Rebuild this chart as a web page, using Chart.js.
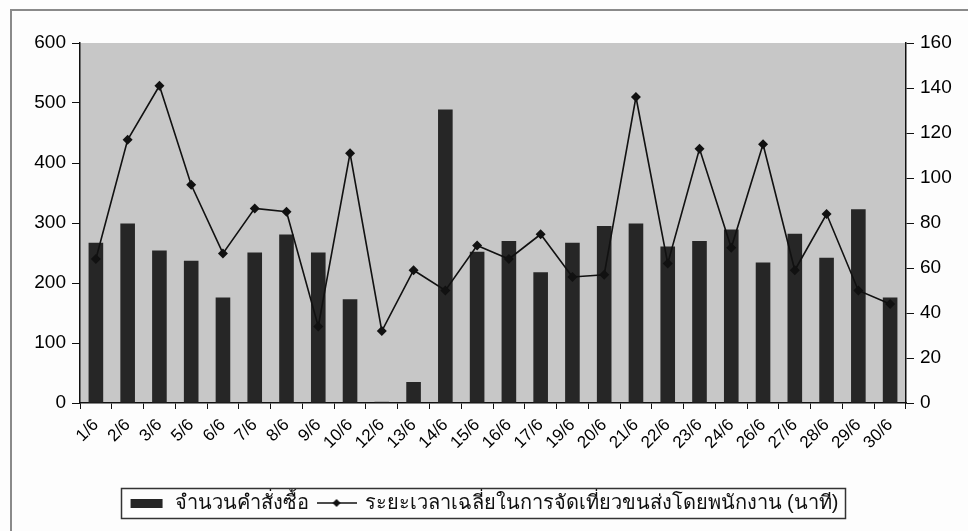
<!DOCTYPE html>
<html>
<head>
<meta charset="utf-8">
<script src="https://cdn.jsdelivr.net/npm/chart.js@4.4.1/dist/chart.umd.min.js"></script>
<style>
  html, body { margin: 0; padding: 0; background: #fdfdfd; }
  #wrap { position: relative; width: 968px; height: 531px; }
</style>
</head>
<body>
<div id="wrap"><canvas id="c" width="968" height="531"></canvas></div>
<script>
// Delivery days in June
const categories = ['1/6','2/6','3/6','5/6','6/6','7/6','8/6','9/6','10/6','12/6','13/6','14/6','15/6',
  '16/6','17/6','19/6','20/6','21/6','22/6','23/6','24/6','26/6','27/6','28/6','29/6','30/6'];

// Number of orders per day (left axis)
const orderCounts = [267, 299, 254, 237, 176, 251, 281, 251, 173, 2, 35, 489, 252,
  270, 218, 267, 295, 299, 261, 270, 289, 234, 282, 242, 323, 176];

// Average time per delivery trip by staff, minutes (right axis)
const avgMinutes = [64, 117, 141, 97, 66.5, 86.5, 85, 34, 111, 32, 59, 50, 70,
  64, 75, 56, 57, 136, 62, 113, 69, 115, 59, 84, 50, 44];

const leftTicks = [0, 100, 200, 300, 400, 500, 600];
const rightTicks = [0, 20, 40, 60, 80, 100, 120, 140, 160];

const seriesNames = ['จำนวนคำสั่งซื้อ', 'ระยะเวลาเฉลี่ยในการจัดเที่ยวขนส่งโดยพนักงาน (นาที)'];

const BAR = '#262626';
const INK = '#111111';
const FONT = "'Liberation Sans', Arial, sans-serif";

// Legend swatches: a filled block for the bars, a line with a diamond for the line series
function barSwatch() {
  const c = document.createElement('canvas');
  c.width = 34; c.height = 12;
  const g = c.getContext('2d');
  g.fillStyle = BAR;
  g.fillRect(1, 2, 32, 9);
  return c;
}
function lineSwatch() {
  const c = document.createElement('canvas');
  c.width = 40; c.height = 12;
  const g = c.getContext('2d');
  g.strokeStyle = INK; g.lineWidth = 1.5;
  g.beginPath(); g.moveTo(0, 6); g.lineTo(40, 6); g.stroke();
  g.fillStyle = INK;
  g.beginPath(); g.moveTo(20, 2); g.lineTo(24, 6); g.lineTo(20, 10); g.lineTo(16, 6); g.closePath(); g.fill();
  return c;
}
const swatches = [barSwatch(), lineSwatch()];

// Grey plot background, outer frame and the box round the legend
const decorations = {
  id: 'decorations',
  beforeDraw(chart) {
    const { ctx, chartArea: a } = chart;
    ctx.save();
    ctx.fillStyle = '#c7c7c7';
    ctx.fillRect(a.left, a.top, a.right - a.left, a.bottom - a.top);
    ctx.restore();
  },
  afterDraw(chart) {
    const ctx = chart.ctx;
    ctx.save();
    ctx.strokeStyle = '#8a8a8a';
    ctx.lineWidth = 2;
    ctx.strokeRect(11, 10, 1000, 600);
    const boxes = chart.legend.legendHitBoxes;
    if (boxes && boxes.length) {
      const l = Math.min(...boxes.map(b => b.left)) - 8;
      const r = Math.max(...boxes.map(b => b.left + b.width)) + 6;
      const t = Math.min(...boxes.map(b => b.top)) - 5;
      const btm = Math.max(...boxes.map(b => b.top + b.height)) + 5;
      ctx.strokeStyle = '#333';
      ctx.lineWidth = 1.5;
      ctx.strokeRect(Math.round(l) + 0.5, Math.round(t) + 0.5, Math.round(r - l), Math.round(btm - t));
    }
    ctx.restore();
  }
};

new Chart(document.getElementById('c'), {
  data: {
    labels: categories,
    datasets: [
      {
        type: 'bar',
        label: seriesNames[0],
        data: orderCounts,
        yAxisID: 'y',
        backgroundColor: BAR,
        borderWidth: 0,
        barPercentage: 0.92,
        categoryPercentage: 0.5,
        order: 2
      },
      {
        type: 'line',
        label: seriesNames[1],
        data: avgMinutes,
        yAxisID: 'y1',
        borderColor: INK,
        borderWidth: 1.6,
        backgroundColor: INK,
        pointStyle: 'rectRot',
        pointRadius: 5,
        pointBackgroundColor: INK,
        pointBorderWidth: 0,
        tension: 0,
        order: 1
      }
    ]
  },
  options: {
    responsive: false,
    animation: false,
    layout: { padding: { left: 11, right: 12, top: 43, bottom: 8 } },
    plugins: {
      tooltip: { enabled: false },
      legend: {
        position: 'bottom',
        labels: {
          color: '#111',
          font: { family: FONT, size: 20 },
          usePointStyle: true,
          pointStyleWidth: 36,
          padding: 10,
          sort: (a, b) => a.datasetIndex - b.datasetIndex,
          generateLabels(chart) {
            const items = Chart.defaults.plugins.legend.labels.generateLabels(chart);
            items.forEach(it => { it.pointStyle = swatches[it.datasetIndex]; });
            return items;
          }
        }
      }
    },
    scales: {
      x: {
        type: 'category',
        offset: true,
        grid: {
          offset: true,
          drawOnChartArea: false,
          drawTicks: true,
          tickLength: 6,
          color: INK
        },
        border: { display: true, color: INK, width: 1.5 },
        ticks: {
          color: '#000',
          font: { family: FONT, size: 17 },
          minRotation: 45,
          maxRotation: 45,
          autoSkip: false,
          padding: 6
        },
        afterFit(s) { s.height = 80; }
      },
      y: {
        position: 'left',
        min: 0,
        max: 600,
        afterBuildTicks(s) { s.ticks = leftTicks.map(v => ({ value: v })); },
        grid: { drawOnChartArea: false, tickLength: 8, color: INK },
        border: { display: true, color: INK, width: 1.5 },
        ticks: { color: '#000', font: { family: FONT, size: 19 }, padding: 6 },
        afterFit(s) { s.width = 69; }
      },
      y1: {
        position: 'right',
        min: 0,
        max: 160,
        afterBuildTicks(s) { s.ticks = rightTicks.map(v => ({ value: v })); },
        grid: { drawOnChartArea: false, tickLength: 8, color: INK },
        border: { display: true, color: INK, width: 1.5 },
        ticks: { color: '#000', font: { family: FONT, size: 19 }, padding: 6 },
        afterFit(s) { s.width = 50; }
      }
    }
  },
  plugins: [decorations]
});
</script>
</body>
</html>
